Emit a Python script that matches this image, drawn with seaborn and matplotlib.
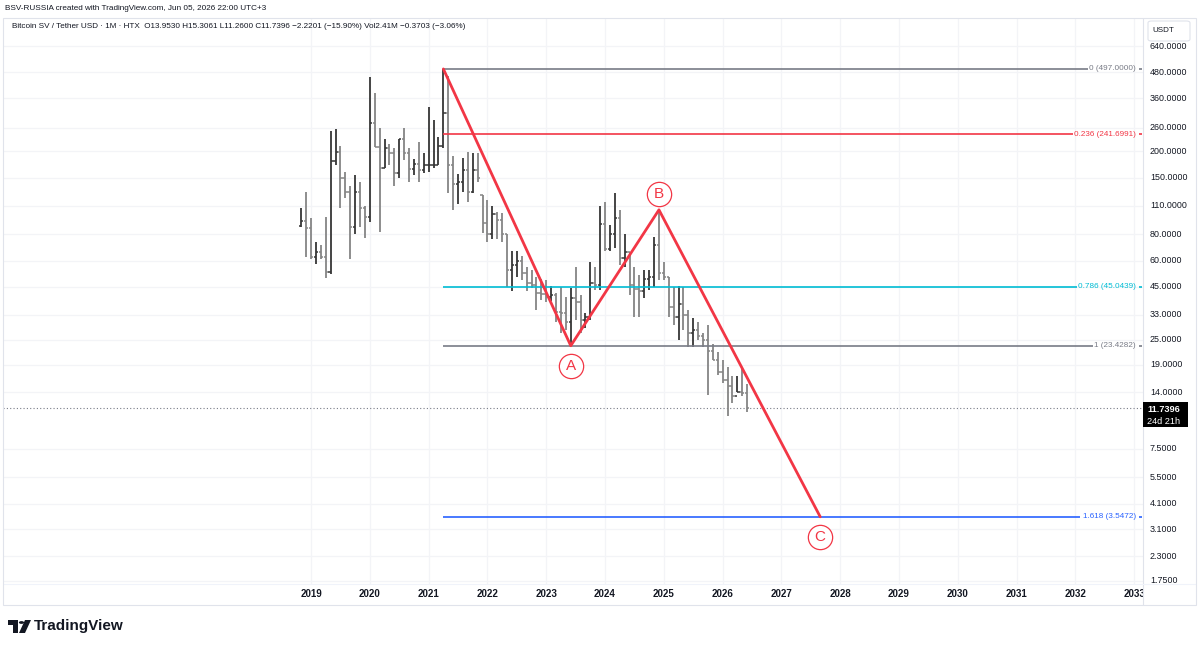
import numpy as np
import pandas as pd
import matplotlib
matplotlib.use('Agg')
import matplotlib.pyplot as plt
import seaborn as sns
from matplotlib import transforms
from matplotlib.patches import Rectangle, Polygon, Circle, FancyBboxPatch

# monthly OHLC, BSV/USDT (HTX), first bar Nov 2018
start_month = '2018-11-01'
opens = [88, 93, 86, 62.5, 66, 62.5, 52.8, 180, 199, 150, 128, 87, 128, 107, 97, 274, 210, 166, 208, 196,
         158, 229, 196, 164, 174, 163, 172, 172, 172, 212, 306, 172, 140, 142, 163, 128, 163, 123, 91, 80,
         100, 94, 80, 54, 57, 60, 52, 47, 46, 42, 41.5, 40, 41, 34, 33.7, 30.5, 39.7, 38, 31, 32,
         47, 46, 90, 68.5, 80, 96, 62, 66, 46, 44, 43, 49, 50, 71, 52, 50, 36, 32, 37, 33,
         27, 28, 26, 25, 22, 20, 17.5, 16, 15, 13.5, 14, 13.953]
highs = [107, 128, 96, 74, 71, 97, 250, 256, 212, 159, 137, 154, 143, 109, 455, 380, 259, 229, 216, 208,
         229, 259, 208, 184, 222, 196, 327, 283, 235, 497, 460, 190, 156, 186, 199, 196, 196, 124, 117, 109,
         102, 101, 80, 67, 67, 63, 56, 54, 50, 49, 48.4, 45.3, 42, 44.8, 40, 44.3, 55.8, 41, 33.5, 59,
         55.8, 109, 115, 89, 127, 105, 80, 66, 56, 51, 54, 54, 78, 105, 59, 50, 44.8, 45.3, 44.8, 34.8,
         31.9, 30.5, 27, 29.5, 24, 21.9, 20.1, 18.5, 16.7, 16.7, 18.5, 15.3061]
lows = [87, 62.5, 61, 57.7, 61, 49.4, 51.6, 172, 107, 120, 61, 80, 87, 77, 92, 210, 82, 166, 172, 136,
        150, 182, 143, 154, 143, 158, 159, 167, 172, 208, 126, 105, 112, 128, 115, 127, 142, 81, 73.5, 76.5,
        76, 73.5, 45, 43, 50, 48.4, 43, 44.5, 34.8, 39, 38, 38.5, 30.5, 27, 28, 23.43, 31, 27, 28.5, 31,
        43.4, 43.4, 67, 67, 69, 57, 56, 41, 32.3, 32.3, 39.7, 43.4, 44.8, 48.4, 48.4, 32.3, 29.5, 25, 27.9, 23.2,
        23.2, 25, 23.2, 13.6, 20, 16.9, 15.5, 10.8, 12.5, 14.0, 13.5, 11.26]
closes = [93, 86, 62.5, 66, 62.5, 52.8, 180, 199, 150, 128, 87, 128, 107, 97, 274, 210, 166, 208, 196, 158,
          229, 196, 164, 174, 163, 172, 172, 172, 212, 306, 172, 140, 142, 163, 128, 163, 150, 91, 80, 100,
          94, 80, 54, 57, 60, 52, 47, 46, 42, 41.5, 40, 41, 34, 33.7, 30.5, 39.7, 38, 31, 32, 47,
          46, 90, 68.5, 80, 96, 62, 66, 46, 44, 43, 49, 50, 71, 52, 50, 36, 32, 37, 33, 27,
          28, 26, 25, 22, 20, 17.5, 16, 15, 13.5, 14.0, 13.953, 11.7396]
last_price = 11.7396

# ABC zigzag (decimal years, price)
wave_labels = ['', 'A', 'B', 'C']
wave_x = [2021.25, 2023.417, 2024.917, 2027.66]
wave_y = [497.0, 23.4282, 105.0, 3.5472]
label_y = [None, 18.7, 125, 2.83]

# fib levels
fib_ratio = ['0', '0.236', '0.786', '1', '1.618']
fib_price = [497.0, 241.6991, 45.0439, 23.4282, 3.5472]
fib_color = ['#787b86', '#f23645', '#00bcd4', '#787b86', '#2962ff']
fib_end_px = [1088, 1073, 1077, 1093, 1080]

price_ticks = [640, 480, 360, 260, 200, 150, 110, 80, 60, 45, 33, 25, 19, 14, 7.5, 5.5, 4.1, 3.1, 2.3, 1.75]
years = list(range(2019, 2034))

df = pd.DataFrame({'open': opens, 'high': highs, 'low': lows, 'close': closes})
dates = pd.date_range(start_month, periods=len(df), freq='MS')
df['x'] = dates.year + (dates.month - 1) / 12

sns.set_style('white')
plt.rcParams['font.family'] = ['Liberation Sans', 'DejaVu Sans']

W, H = 1200, 646
X_MIN, X_MAX = 2013.76, 2033.15
Y_MIN, Y_MAX = 1.69, 872


def fx(px):
    return px / W


def fy(py):
    return 1 - py / H


def px2x(px):
    return X_MIN + (px - 3) / 1140 * (X_MAX - X_MIN)


fig = plt.figure(figsize=(12, 6.46), dpi=100)
ax = fig.add_axes([fx(3), fy(584), 1140 / W, 566 / H])
ax.set_yscale('log')
ax.set_xlim(X_MIN, X_MAX)
ax.set_ylim(Y_MIN, Y_MAX)
ax.set_xticks([])
ax.set_yticks([])
ax.minorticks_off()
for s in ax.spines.values():
    s.set_visible(False)

# grid
for p in price_ticks:
    ax.axhline(p, color='#f3f4f7', lw=0.9, zorder=0)
for yr in years:
    ax.axvline(yr, color='#f3f4f7', lw=0.9, zorder=0)

# ohlc bars
tick = 2.2 / 58.8
up = df['close'] >= df['open']
for mask, col in [(up, '#363636'), (~up, '#858585')]:
    d = df[mask]
    ax.vlines(d['x'], d['low'], d['high'], color=col, lw=1.3, zorder=2)
    ax.hlines(d['open'], d['x'] - tick, d['x'], color=col, lw=1.1, zorder=2)
    ax.hlines(d['close'], d['x'], d['x'] + tick, color=col, lw=1.1, zorder=2)

# last price line
ax.axhline(last_price, color='#787b86', lw=0.8, ls=(0, (1, 2)), zorder=1)

# fib levels
for r, p, c, e in zip(fib_ratio, fib_price, fib_color, fib_end_px):
    ax.hlines(p, wave_x[0], px2x(e), color=c, lw=1.2, zorder=3)
    ax.text(px2x(1136), p, f'{r} ({p:.4f})', color=c, fontsize=5.9, ha='right', va='center', zorder=4)
    ax.hlines(p, px2x(1139), px2x(1142), color=c, lw=1.2, zorder=3)

# zigzag
sns.lineplot(x=wave_x, y=wave_y, ax=ax, color='#f23645', lw=2.0, sort=False, estimator=None, zorder=5)
for lab, x, y in zip(wave_labels, wave_x, label_y):
    if not lab:
        continue
    ax.plot([x], [y], marker='o', ms=17.5, mfc='white', mec='#f23645', mew=0.9, zorder=6)
    ax.text(x, y, lab, color='#f23645', fontsize=11, ha='center', va='center', zorder=7)

# x labels
bt = transforms.blended_transform_factory(ax.transData, fig.transFigure)
for yr in years:
    ax.text(yr, fy(594), str(yr), transform=bt, fontsize=7, fontweight='bold', color='#131722',
            ha='center', va='center', clip_on=False)

# price axis panel on top
fig.add_artist(Rectangle((fx(1143), fy(606)), 53 / W, 588 / H, transform=fig.transFigure,
                         facecolor='white', edgecolor='none', zorder=5))
fig.add_artist(plt.Line2D([fx(1143), fx(1143)], [fy(18), fy(605)], transform=fig.transFigure,
                          color='#e0e3eb', lw=0.8, zorder=6))
fig.add_artist(plt.Line2D([fx(3), fx(1196)], [fy(584), fy(584)], transform=fig.transFigure,
                          color='#f0f3fa', lw=0.8, zorder=6))
fig.add_artist(Rectangle((fx(3), fy(605)), 1193 / W, 587 / H, transform=fig.transFigure,
                         facecolor='none', edgecolor='#e0e3eb', lw=0.8, zorder=6))

pt = transforms.blended_transform_factory(fig.transFigure, ax.transData)
for p in price_ticks:
    fig.text(fx(1150), p, f'{p:.4f}', transform=pt, fontsize=6.4, color='#131722',
             ha='left', va='center', zorder=7)

fig.add_artist(FancyBboxPatch((fx(1148), fy(41)), 42 / W, 20 / H, transform=fig.transFigure,
                              boxstyle='round,pad=0,rounding_size=0.003', facecolor='white',
                              edgecolor='#e0e3eb', lw=0.8, zorder=7))
fig.text(fx(1152), fy(31), 'USDT', fontsize=5.8, color='#131722', va='center', zorder=8)

fig.add_artist(Rectangle((fx(1143), fy(427)), 45 / W, 25 / H, transform=fig.transFigure,
                         facecolor='black', edgecolor='none', zorder=7))
fig.text(fx(1147), fy(409), f'{last_price:.4f}', fontsize=6.6, color='white', fontweight='bold',
         va='center', zorder=8)
fig.text(fx(1147), fy(421), '24d 21h', fontsize=6.6, color='white', va='center', zorder=8)

# header
fig.text(fx(5), fy(8), 'BSV-RUSSIA created with TradingView.com, Jun 05, 2026 22:00 UTC+3',
         fontsize=5.9, color='#131722', va='center')
fig.text(fx(12), fy(27), 'Bitcoin SV / Tether USD · 1M · HTX  O13.9530 H15.3061 L11.2600 C11.7396 '
         '\u22122.2201 (\u221215.90%) Vol2.41M \u22120.3703 (\u22123.06%)',
         fontsize=5.9, color='#131722', va='center')

# TradingView logo
fig.add_artist(Polygon([(fx(8), fy(620)), (fx(18), fy(620)), (fx(18), fy(633)), (fx(13), fy(633)),
                        (fx(13), fy(625)), (fx(8), fy(625))], closed=True, transform=fig.transFigure,
                       facecolor='#131722', edgecolor='none'))
fig.add_artist(Circle((fx(21.5), fy(622.5)), 2.6 / W, transform=fig.transFigure,
                      facecolor='#131722', edgecolor='none'))
fig.add_artist(Polygon([(fx(25), fy(620)), (fx(31), fy(620)), (fx(25), fy(633)), (fx(19), fy(633))],
                       closed=True, transform=fig.transFigure, facecolor='#131722', edgecolor='none'))
fig.text(fx(34), fy(626), 'TradingView', fontsize=11, fontweight='bold', color='#131722', va='center')

fig.savefig('out.png', dpi=100, facecolor='white')
